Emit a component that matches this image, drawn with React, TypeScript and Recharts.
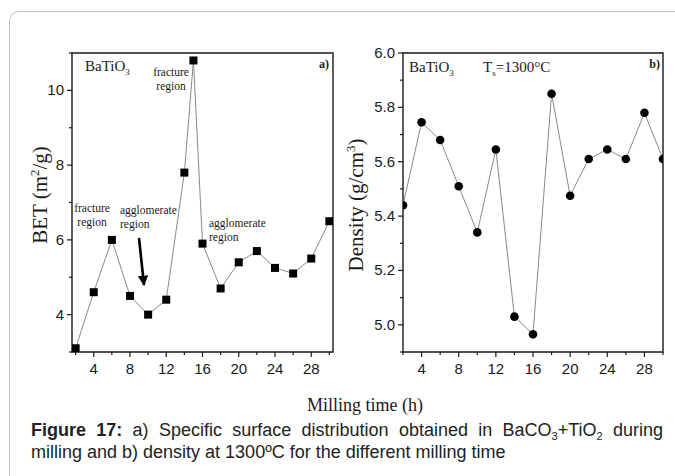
import { LineChart, Line, XAxis, YAxis, ReferenceArea } from 'recharts'

// a) BET specific surface vs milling time
const betHours = [2, 4, 6, 8, 10, 12, 14, 15, 16, 18, 20, 22, 24, 26, 28, 30]
const betValues = [3.1, 4.6, 6.0, 4.5, 4.0, 4.4, 7.8, 10.8, 5.9, 4.7, 5.4, 5.7, 5.25, 5.1, 5.5, 6.5]

// b) density after sintering at 1300 C
const densityHours = [2, 4, 6, 8, 10, 12, 14, 16, 18, 20, 22, 24, 26, 28, 30]
const densityValues = [5.44, 5.745, 5.68, 5.51, 5.34, 5.645, 5.03, 4.965, 5.85, 5.475, 5.61, 5.645, 5.61, 5.78, 5.61]

const hourTicks = [2, 4, 6, 8, 10, 12, 14, 16, 18, 20, 22, 24, 26, 28, 30]
const betTicks = [3, 4, 5, 6, 7, 8, 9, 10, 11]
const densityTicks = [4.9, 5.0, 5.1, 5.2, 5.3, 5.4, 5.5, 5.6, 5.7, 5.8, 5.9, 6.0]

const betData = betHours.map((h, i) => ({ h, v: betValues[i] }))
const densityData = densityHours.map((h, i) => ({ h, v: densityValues[i] }))

const SERIF = '"Liberation Serif", "Times New Roman", serif'
const SANS = '"Liberation Sans", Arial, sans-serif'
const INK = '#1a1a1a'

function xTick(isMajor: (v: number) => boolean) {
  return (props: any) => {
    const { x, y, payload } = props
    const major = isMajor(payload.value)
    return (
      <g>
        <line x1={x} x2={x} y1={y} y2={y + (major ? 5 : 3)} stroke={INK} strokeWidth={1.2} />
        {major && (
          <text x={x} y={y + 22} textAnchor="middle" fontSize={15} fontFamily={SANS} fill={INK}>
            {payload.value}
          </text>
        )}
      </g>
    )
  }
}

function yTick(isMajor: (v: number) => boolean, fmt: (v: number) => string) {
  return (props: any) => {
    const { x, y, payload } = props
    const major = isMajor(payload.value)
    return (
      <g>
        <line x1={x} x2={x - (major ? 5 : 3)} y1={y} y2={y} stroke={INK} strokeWidth={1.2} />
        {major && (
          <text x={x - 8} y={y + 5} textAnchor="end" fontSize={15} fontFamily={SANS} fill={INK}>
            {fmt(payload.value)}
          </text>
        )}
      </g>
    )
  }
}

const Square = (props: any) => {
  const { cx, cy, index } = props
  return <rect key={index} x={cx - 4} y={cy - 4} width={8} height={8} fill="#000" />
}

const Circle = (props: any) => {
  const { cx, cy, index } = props
  return <circle key={index} cx={cx} cy={cy} r={4.3} fill="#000" />
}

const everyFour = (v: number) => v % 4 === 0
const evenInt = (v: number) => v % 2 === 0
const evenTenth = (v: number) => Math.round(v * 10) % 2 === 0

export default function App() {
  return (
    <div style={{ position: 'fixed', left: 0, top: 0, width: 675, height: 476, background: '#fff', overflow: 'hidden' }}>
      <div
        style={{
          position: 'absolute', left: 9, top: 11, width: 720, height: 520,
          borderTop: '1.5px solid #c4c4c4', borderLeft: '1.5px solid #c4c4c4', borderTopLeftRadius: 10,
        }}
      />

      <div style={{ position: 'absolute', left: 0, top: 0 }}>
        <LineChart width={345} height={380} data={betData} margin={{ top: 53, right: 12, bottom: 0, left: 0 }}>
          <XAxis
            dataKey="h" type="number" domain={[1.6, 30.4]} ticks={hourTicks} interval={0}
            allowDataOverflow height={28} axisLine={false} tickLine={false} tickSize={0} tickMargin={0}
            tick={xTick(everyFour)}
          />
          <YAxis
            type="number" domain={[3, 11]} ticks={betTicks} interval={0}
            allowDataOverflow width={72} axisLine={false} tickLine={false} tickSize={0} tickMargin={0}
            tick={yTick(evenInt, (v) => String(v))}
          />
          <ReferenceArea x1={1.6} x2={30.4} y1={3} y2={11} fill="none" stroke={INK} strokeWidth={1.4} />
          <Line dataKey="v" stroke="#8a8a8a" strokeWidth={1} dot={Square} isAnimationActive={false} />
        </LineChart>
      </div>

      <div style={{ position: 'absolute', left: 340, top: 0 }}>
        <LineChart width={335} height={380} data={densityData} margin={{ top: 53, right: 12, bottom: 0, left: 0 }}>
          <XAxis
            dataKey="h" type="number" domain={[2, 30]} ticks={hourTicks} interval={0}
            allowDataOverflow height={28} axisLine={false} tickLine={false} tickSize={0} tickMargin={0}
            tick={xTick(everyFour)}
          />
          <YAxis
            type="number" domain={[4.9, 6.0]} ticks={densityTicks} interval={0}
            allowDataOverflow width={63} axisLine={false} tickLine={false} tickSize={0} tickMargin={0}
            tick={yTick(evenTenth, (v) => v.toFixed(1))}
          />
          <ReferenceArea x1={2} x2={30} y1={4.9} y2={6.0} fill="none" stroke={INK} strokeWidth={1.4} />
          <Line dataKey="v" stroke="#8a8a8a" strokeWidth={1} dot={Circle} isAnimationActive={false} />
        </LineChart>
      </div>

      <svg width={675} height={476} style={{ position: 'absolute', left: 0, top: 0, pointerEvents: 'none' }}>
        <defs>
          <marker id="arrowHead" viewBox="0 0 10 10" refX={9} refY={5} markerWidth={4} markerHeight={5} orient="auto" markerUnits="strokeWidth">
            <path d="M0,0 L10,5 L0,10 z" fill="#000" />
          </marker>
        </defs>
        <g fontFamily={SERIF} fill={INK}>
          {/* panel a */}
          <text x={85} y={71} fontSize={15}>
            BaTiO<tspan fontSize={9} dy={4}>3</tspan>
          </text>
          <text x={329} y={68} fontSize={12} fontWeight="bold" textAnchor="end">a)</text>
          <text x={171} y={76} fontSize={11.5} textAnchor="middle">fracture</text>
          <text x={171} y={90} fontSize={11.5} textAnchor="middle">region</text>
          <text x={92} y={212} fontSize={11.5} textAnchor="middle">fracture</text>
          <text x={92} y={226} fontSize={11.5} textAnchor="middle">region</text>
          <text x={120} y={214} fontSize={11.5}>agglomerate</text>
          <text x={120} y={228} fontSize={11.5}>region</text>
          <text x={209} y={227} fontSize={11.5}>agglomerate</text>
          <text x={209} y={241} fontSize={11.5}>region</text>

          {/* panel b */}
          <text x={409} y={72} fontSize={15}>
            BaTiO<tspan fontSize={9} dy={4}>3</tspan>
          </text>
          <text x={483} y={72} fontSize={15}>
            T<tspan fontSize={9} dy={4}>s</tspan><tspan dy={-4}>=1300°C</tspan>
          </text>
          <text x={660} y={68} fontSize={12} fontWeight="bold" textAnchor="end">b)</text>

          {/* axis titles */}
          <text transform="translate(47,195) rotate(-90)" fontSize={21} textAnchor="middle">
            BET (m<tspan fontSize={13} dy={-8}>2</tspan><tspan dy={8}>/g)</tspan>
          </text>
          <text transform="translate(363,205) rotate(-90)" fontSize={21} textAnchor="middle">
            Density (g/cm<tspan fontSize={13} dy={-8}>3</tspan><tspan dy={8}>)</tspan>
          </text>
          <text x={365} y={411} fontSize={18} textAnchor="middle">Milling time (h)</text>
        </g>
        <line x1={139} y1={238} x2={144} y2={285} stroke="#000" strokeWidth={2.6} markerEnd="url(#arrowHead)" />
      </svg>

      <div style={{ position: 'absolute', left: 31, top: 419, width: 632, fontFamily: SANS, fontSize: 18, lineHeight: '22px', color: '#222' }}>
        <div style={{ textAlign: 'justify', textAlignLast: 'justify' }}>
          <b>Figure 17:</b> a) Specific surface distribution obtained in BaCO
          <sub style={{ fontSize: 11, lineHeight: 0, verticalAlign: -4 }}>3</sub>+TiO
          <sub style={{ fontSize: 11, lineHeight: 0, verticalAlign: -4 }}>2</sub> during
        </div>
        <div>milling and b) density at 1300ºC for the different milling time</div>
      </div>
    </div>
  )
}
